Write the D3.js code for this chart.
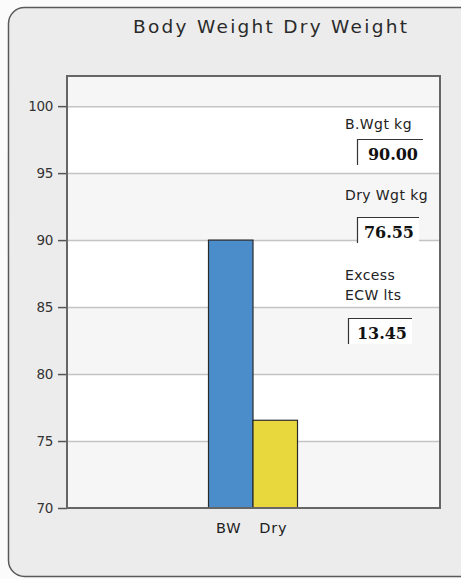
<!DOCTYPE html>
<html>
<head>
<meta charset="utf-8">
<script src="https://cdn.jsdelivr.net/npm/d3@7"></script>
<style>
  body { margin: 0; background: #fbfbfb; }
  svg { display: block; }
</style>
</head>
<body>
<div id="chart-area"></div>
<script>
// body weight vs dry weight bars

var categories = ["BW", "Dry"];
var values = [90.00, 76.55];
var barColors = ["#4b8ccb", "#e8d83e"];
var yTicks = [70, 75, 80, 85, 90, 95, 100];
var yMax = 102.25;

var infoLabels = [["B.Wgt kg"], ["Dry Wgt kg"], ["Excess", "ECW lts"]];
var infoValues = ["90.00", "76.55", "13.45"];

var W = 461, H = 579;
var plot = { left: 67, top: 76, right: 440, bottom: 508 };
var sans = "DejaVu Sans, Verdana, sans-serif";

var svg = d3.select("#chart-area")
    .append("svg")
    .attr("width", W)
    .attr("height", H);

// outer panel
svg.append("rect")
    .attr("x", 8.5).attr("y", 7.5)
    .attr("width", 470).attr("height", 569)
    .attr("rx", 16).attr("ry", 16)
    .attr("fill", "#ececec")
    .attr("stroke", "#5a5a5a")
    .attr("stroke-width", 1.5);

svg.append("text")
    .attr("x", 270).attr("y", 33)
    .attr("text-anchor", "middle")
    .attr("font-family", sans)
    .attr("font-size", 18.5)
    .attr("textLength", 274)
    .attr("lengthAdjust", "spacing")
    .attr("fill", "#2a2a2a")
    .text("Body Weight Dry Weight");

var y = d3.scaleLinear()
    .domain([70, yMax])
    .range([plot.bottom, plot.top]);

var mid = (plot.left + plot.right) / 2;
var x = d3.scaleBand()
    .domain(categories)
    .range([mid - 45, mid + 44])
    .padding(0);

var g = svg.append("g");

// alternating bands
var edges = yTicks.concat([yMax]);
for (var i = 0; i < edges.length - 1; i++) {
    g.append("rect")
        .attr("x", plot.left)
        .attr("y", y(edges[i + 1]))
        .attr("width", plot.right - plot.left)
        .attr("height", y(edges[i]) - y(edges[i + 1]))
        .attr("fill", i % 2 == 0 ? "#f6f6f6" : "#ffffff");
}

// gridlines
g.selectAll(".grid")
    .data(yTicks.slice(1))
    .enter().append("line")
    .attr("x1", plot.left).attr("x2", plot.right)
    .attr("y1", function(d) { return y(d) + 0.5; })
    .attr("y2", function(d) { return y(d) + 0.5; })
    .attr("stroke", "#c4c4c4")
    .attr("stroke-width", 1.5);

// y axis
var yAxis = g.append("g")
    .attr("transform", "translate(" + plot.left + ",0)")
    .call(d3.axisLeft(y).tickValues(yTicks).tickSize(9).tickPadding(5));
yAxis.select(".domain").remove();
yAxis.selectAll(".tick line").attr("stroke", "#555").attr("stroke-width", 1.5);
yAxis.selectAll(".tick text")
    .attr("font-family", sans)
    .attr("font-size", 13.5)
    .attr("letter-spacing", -0.3)
    .attr("fill", "#333");

// bars
g.selectAll(".bar")
    .data(categories)
    .enter().append("rect")
    .attr("x", function(d) { return x(d); })
    .attr("y", function(d, i) { return y(values[i]); })
    .attr("width", x.bandwidth())
    .attr("height", function(d, i) { return y(70) - y(values[i]); })
    .attr("fill", function(d, i) { return barColors[i]; })
    .attr("stroke", "#2a2a2a")
    .attr("stroke-width", 1.2);

// x labels
g.selectAll(".xlab")
    .data(categories)
    .enter().append("text")
    .attr("x", function(d) { return x(d) + x.bandwidth() / 2 - 2; })
    .attr("y", 533)
    .attr("text-anchor", "middle")
    .attr("font-family", sans)
    .attr("font-size", 14.5)
    .attr("letter-spacing", 0.8)
    .attr("fill", "#222")
    .text(function(d) { return d; });

// plot frame
g.append("rect")
    .attr("x", plot.left).attr("y", plot.top)
    .attr("width", plot.right - plot.left)
    .attr("height", plot.bottom - plot.top)
    .attr("fill", "none")
    .attr("stroke", "#666")
    .attr("stroke-width", 2);

// info boxes on the right
var labelY = [129, 200, 280];
var boxPos = [[357, 139, 66], [357, 217, 62], [348, 318, 64]];
infoLabels.forEach(function(lines, i) {
    lines.forEach(function(t, j) {
        g.append("text")
            .attr("x", 345)
            .attr("y", labelY[i] + j * 20)
            .attr("font-family", sans)
            .attr("font-size", 14)
            .attr("letter-spacing", 0.4)
            .attr("fill", "#222")
            .text(t);
    });
    var b = boxPos[i];
    g.append("rect")
        .attr("x", b[0]).attr("y", b[1])
        .attr("width", b[2]).attr("height", 26)
        .attr("fill", "#fff");
    g.append("path")
        .attr("d", "M" + (b[0] + 0.5) + "," + (b[1] + 26) + "V" + (b[1] + 0.5) + "H" + (b[0] + b[2]))
        .attr("fill", "none")
        .attr("stroke", "#333")
        .attr("stroke-width", 1.2);
    g.append("text")
        .attr("x", b[0] + b[2] - 5)
        .attr("y", b[1] + 21)
        .attr("text-anchor", "end")
        .attr("font-family", "DejaVu Serif, Times New Roman, serif")
        .attr("font-weight", "bold")
        .attr("font-size", 16)
        .attr("fill", "#111")
        .text(infoValues[i]);
});
</script>
</body>
</html>
